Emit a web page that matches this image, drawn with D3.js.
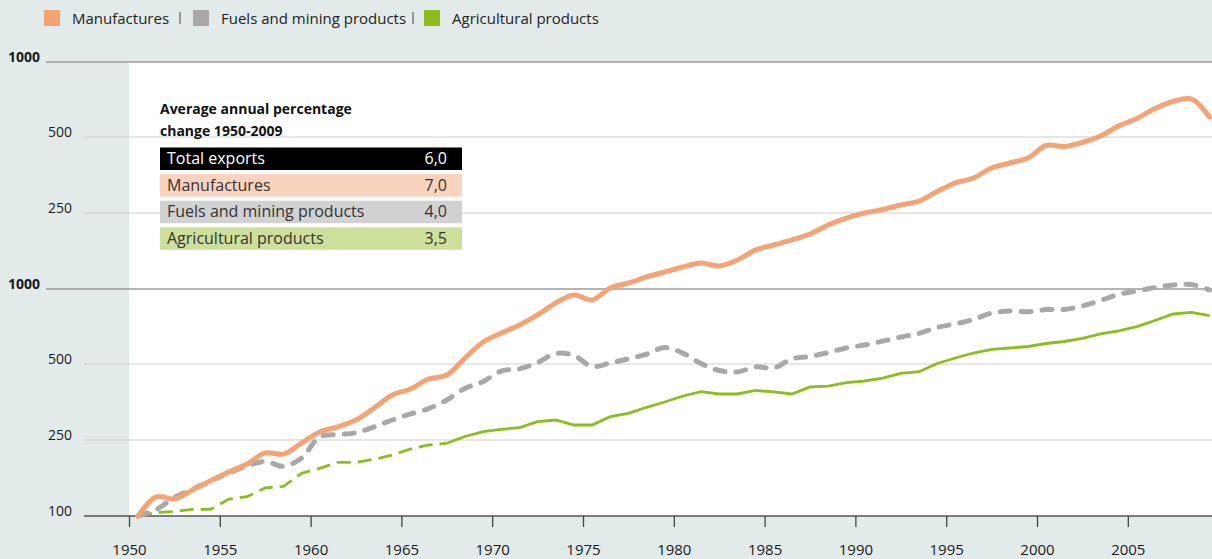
<!DOCTYPE html>
<html>
<head>
<meta charset="utf-8">
<script src="https://cdn.jsdelivr.net/npm/d3@7"></script>
<style>
  body { margin: 0; background: #e2ebe9; }
  svg { display: block; font-family: "Open Sans", sans-serif; }
</style>
</head>
<body>
<svg id="chart" width="1212" height="559"></svg>
<script>
const years = [
  1950, 1951, 1952, 1953, 1954, 1955, 1956, 1957, 1958, 1959,
  1960, 1961, 1962, 1963, 1964, 1965, 1966, 1967, 1968, 1969,
  1970, 1971, 1972, 1973, 1974, 1975, 1976, 1977, 1978, 1979,
  1980, 1981, 1982, 1983, 1984, 1985, 1986, 1987, 1988, 1989,
  1990, 1991, 1992, 1993, 1994, 1995, 1996, 1997, 1998, 1999,
  2000, 2001, 2002, 2003, 2004, 2005, 2006, 2007, 2008, 2009
];
// export volume index, 1950 = 100
const manufactures = [
  100, 126, 123, 137, 153, 170, 187, 214, 211, 241,
  269, 282, 300, 335, 377, 398, 436, 452, 528, 613,
  666, 717, 787, 879, 946, 903, 1012, 1075, 1156, 1227,
  1304, 1368, 1320, 1418, 1600, 1700, 1806, 1941, 2163, 2353,
  2500, 2581, 2689, 2789, 3041, 3287, 3440, 3769, 3945, 4129,
  4628, 4586, 4756, 5047, 5536, 5933, 6508, 6942, 7104, 6017
];
const fuels = [
  100, 108, 125, 138, 153, 168, 183, 193, 182, 201,
  257, 263, 267, 282, 300, 317, 333, 360, 400, 426,
  469, 478, 507, 551, 541, 489, 505, 524, 548, 582,
  553, 502, 471, 465, 487, 482, 524, 536, 556, 580,
  596, 618, 642, 663, 701, 724, 754, 801, 816, 811,
  827, 828, 855, 899, 951, 982, 1018, 1049, 1056, 991
];
const agricultural = [
  100, 104.3, 105.6, 108.4, 108.4, 122.7, 126.2, 140.2, 142.7, 167.3,
  177.7, 191, 191, 198.1, 208.7, 224.3, 235.4, 240.3, 258.1, 269.6,
  275.6, 279.7, 295.4, 300, 286.7, 286.7, 309.2, 319, 336.9, 353.6,
  373.5, 388.5, 380.4, 380.4, 392.7, 387.4, 380.4, 405.4, 409, 421.6,
  428.2, 440, 459.3, 466.1, 502.3, 528.4, 553.4, 572.8, 579.7, 587.8,
  604.3, 615.6, 633, 660, 679.7, 706, 747.4, 793.8, 806.3, 781.4
];
const agriEstimatedUntil = 1967;

const yTicks = [100, 250, 500, 1000, 2500, 5000, 10000];
const yTickLabels = ['100', '250', '500', '1000', '250', '500', '1000'];
const xTicks = [1950, 1955, 1960, 1965, 1970, 1975, 1980, 1985, 1990, 1995, 2000, 2005];

const seriesNames = ['Manufactures', 'Fuels and mining products', 'Agricultural products'];
const boxTitle = ['Average annual percentage', 'change 1950-2009'];
const boxRows = ['Total exports', 'Manufactures', 'Fuels and mining products', 'Agricultural products'];
const boxValues = ['6,0', '7,0', '4,0', '3,5'];

const W = 1212, H = 559;
const plot = {left: 129, right: 1212, top: 62, bottom: 516};
const colors = {man: '#f4a474', fuel: '#a9a7a8', agri: '#8cbd1c'};

const svg = d3.select('#chart');

const x = d3.scaleLinear()
    .domain([1950, 2010])
    .range([plot.left, plot.left + 60 * 18.16]);
// stacked index scale: each labelled step gets the same height
const y = d3.scaleLog()
    .domain(yTicks)
    .range([516, 440, 364, 289, 213, 137, 62]);

svg.append('rect')
    .attr('x', plot.left).attr('y', plot.top)
    .attr('width', plot.right - plot.left).attr('height', plot.bottom - plot.top)
    .attr('fill', '#fff');

// grid + y labels
const grid = svg.append('g');
yTicks.forEach((v, i) => {
    const big = yTickLabels[i] === '1000';
    const bottom = i === 0;
    grid.append('line')
        .attr('x1', big ? 46 : 84).attr('x2', W)
        .attr('y1', y(v)).attr('y2', y(v))
        .attr('stroke', bottom ? '#555' : big ? '#9b9b9b' : '#cfcfcf')
        .attr('stroke-width', bottom || big ? 1.6 : 1.2);
    grid.append('text')
        .attr('x', big ? 8 : 72)
        .attr('y', y(v) - 0.5)
        .attr('text-anchor', big ? 'start' : 'end')
        .attr('font-size', 14)
        .attr('font-weight', big ? 700 : 400)
        .attr('fill', '#1a1a1a')
        .text(yTickLabels[i]);
});

// x axis
const xAxis = d3.axisBottom(x)
    .tickValues(xTicks)
    .tickFormat(d3.format('d'))
    .tickSize(11)
    .tickPadding(17);
const gx = svg.append('g')
    .attr('transform', `translate(0,${plot.bottom})`)
    .call(xAxis);
gx.select('.domain').remove();
gx.selectAll('line').attr('stroke', '#444').attr('stroke-width', 1.3);
gx.selectAll('text')
    .attr('font-size', 15)
    .attr('font-family', '"Open Sans", sans-serif')
    .attr('fill', '#1a1a1a');

// summary box
const box = svg.append('g');
box.selectAll('text.title').data(boxTitle)
    .enter().append('text')
        .attr('class', 'title')
        .attr('x', 160)
        .attr('y', (d, i) => 114 + i * 22)
        .attr('font-size', 14)
        .attr('font-weight', 700)
        .attr('fill', '#111')
        .text(d => d);
const rowFill = ['#000000', '#f9d3bd', '#d2d1d2', '#cde09b'];
const rows = box.selectAll('g.row').data(boxRows)
    .enter().append('g')
        .attr('class', 'row')
        .attr('transform', (d, i) => `translate(160,${147.5 + i * 26.6})`);
rows.append('rect')
    .attr('width', 302).attr('height', 22.5)
    .attr('fill', (d, i) => rowFill[i]);
rows.append('text')
    .attr('x', 7).attr('y', 16.5)
    .attr('font-size', 16)
    .attr('fill', (d, i) => i === 0 ? '#fff' : '#333')
    .text(d => d);
rows.append('text')
    .attr('x', 287).attr('y', 16.5)
    .attr('text-anchor', 'end')
    .attr('font-size', 16)
    .attr('fill', (d, i) => i === 0 ? '#fff' : '#333')
    .text((d, i) => boxValues[i]);

// lines
svg.append('clipPath').attr('id', 'clip')
    .append('rect')
    .attr('x', plot.left).attr('y', 0)
    .attr('width', plot.right - plot.left).attr('height', H);
const lines = svg.append('g').attr('clip-path', 'url(#clip)');

const pts = vals => years.map((yr, i) => ({year: yr, v: vals[i]}));
const smooth = d3.line()
    .x(d => x(d.year + 0.5))
    .y(d => y(d.v))
    .curve(d3.curveCatmullRom.alpha(0.5));
const straight = d3.line()
    .x(d => x(d.year + 0.5))
    .y(d => y(d.v));

const agriPts = pts(agricultural);
lines.append('path')
    .attr('d', straight(agriPts.filter(d => d.year <= agriEstimatedUntil)))
    .attr('fill', 'none')
    .attr('stroke', colors.agri)
    .attr('stroke-width', 2.8)
    .attr('stroke-dasharray', '14,7');
lines.append('path')
    .attr('d', straight(agriPts.filter(d => d.year >= agriEstimatedUntil)))
    .attr('fill', 'none')
    .attr('stroke', colors.agri)
    .attr('stroke-width', 2.8);

lines.append('path')
    .attr('d', smooth(pts(fuels)))
    .attr('fill', 'none')
    .attr('stroke', colors.fuel)
    .attr('stroke-width', 5)
    .attr('stroke-linecap', 'round')
    .attr('stroke-dasharray', '10,11');

lines.append('path')
    .attr('d', smooth(pts(manufactures)))
    .attr('fill', 'none')
    .attr('stroke', colors.man)
    .attr('stroke-width', 5)
    .attr('stroke-linecap', 'round');

// legend
const legendX = [44, 193, 424];
const legendColors = [colors.man, colors.fuel, colors.agri];
const legend = svg.append('g');
seriesNames.forEach((name, i) => {
    legend.append('rect')
        .attr('x', legendX[i]).attr('y', 10)
        .attr('width', 16).attr('height', 16)
        .attr('fill', legendColors[i]);
    legend.append('text')
        .attr('x', legendX[i] + 28).attr('y', 24)
        .attr('font-size', 15)
        .attr('fill', '#222')
        .text(name);
});
[180, 413].forEach(sx => {
    legend.append('line')
        .attr('x1', sx).attr('x2', sx)
        .attr('y1', 12).attr('y2', 24)
        .attr('stroke', '#444').attr('stroke-width', 1);
});
</script>
</body>
</html>
